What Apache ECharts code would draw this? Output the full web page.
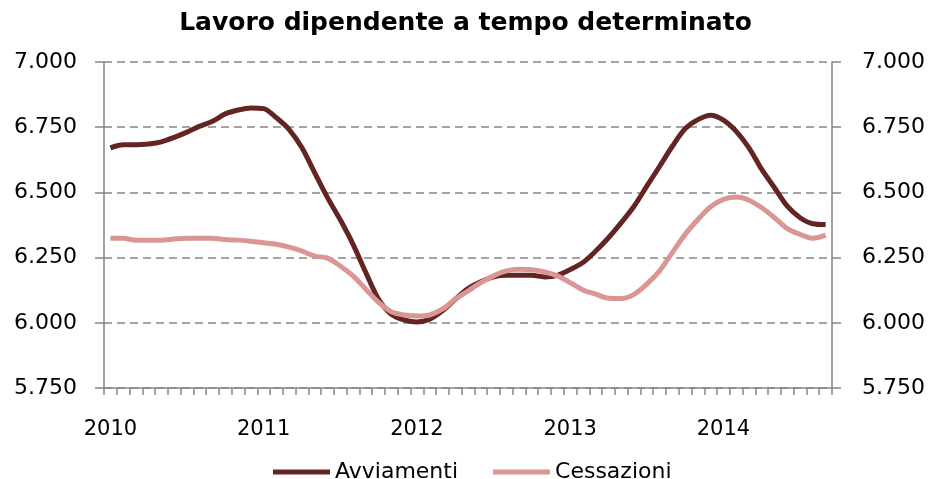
<!DOCTYPE html>
<html>
<head>
<meta charset="utf-8">
<script src="https://cdn.jsdelivr.net/npm/echarts@6/dist/echarts.min.js"></script>
<style>
html,body{margin:0;padding:0;background:#fff;}
#chart{width:931px;height:479px;}
</style>
</head>
<body>
<div id="chart"></div>
<script>
const categories = [
 "2010-01","2010-02","2010-03","2010-04","2010-05","2010-06","2010-07","2010-08","2010-09","2010-10","2010-11","2010-12",
 "2011-01","2011-02","2011-03","2011-04","2011-05","2011-06","2011-07","2011-08","2011-09","2011-10","2011-11","2011-12",
 "2012-01","2012-02","2012-03","2012-04","2012-05","2012-06","2012-07","2012-08","2012-09","2012-10","2012-11","2012-12",
 "2013-01","2013-02","2013-03","2013-04","2013-05","2013-06","2013-07","2013-08","2013-09","2013-10","2013-11","2013-12",
 "2014-01","2014-02","2014-03","2014-04","2014-05","2014-06","2014-07","2014-08","2014-09"
];
const yearLabels = ["2010","2011","2012","2013","2014"];
const avviamenti = [
 6671,6683,6683,6686,6694,6711,6731,6754,6773,6801,6816,6824,
 6821,6786,6741,6671,6575,6480,6395,6301,6193,6090,6033,6011,
 6003,6014,6046,6090,6131,6157,6176,6182,6182,6182,6176,6182,
 6204,6231,6275,6326,6384,6447,6524,6600,6677,6744,6779,6796,
 6777,6734,6671,6588,6518,6447,6403,6380,6377
];
const cessazioni = [
 6324,6324,6317,6317,6317,6321,6324,6324,6324,6319,6317,6313,
 6307,6301,6290,6275,6256,6248,6218,6180,6129,6078,6042,6030,
 6026,6030,6052,6090,6122,6154,6180,6199,6205,6203,6195,6180,
 6154,6126,6110,6094,6093,6109,6148,6199,6269,6339,6396,6445,
 6473,6482,6470,6441,6403,6361,6339,6324,6336
];
const yTicks = { min: 5750, max: 7000, interval: 250 };

const fmt = v => String(Math.round(v)).replace(/\B(?=(\d{3})+(?!\d))/g, '.');
const FONT = '"DejaVu Sans", Verdana, sans-serif';
const axisGray = '#868686';

const chart = echarts.init(document.getElementById('chart'), null, {renderer:'canvas'});
chart.setOption({
  animation: false,
  backgroundColor: '#ffffff',
  title: {
    text: 'Lavoro dipendente a tempo determinato',
    left: 'center',
    top: 6,
    textStyle: { fontFamily: FONT, fontSize: 25, fontWeight: 'bold', color: '#000' }
  },
  legend: {
    left: 268,
    top: 456,
    itemWidth: 57,
    itemHeight: 5,
    itemGap: 35,
    icon: 'rect',
    textStyle: { fontFamily: FONT, fontSize: 22, color: '#000' },
    data: ['Avviamenti', 'Cessazioni']
  },
  grid: { left: 104, right: 99, top: 62, bottom: 91, containLabel: false },
  xAxis: {
    type: 'category',
    data: categories,
    boundaryGap: true,
    axisLine: { show: true, lineStyle: { color: axisGray, width: 1.5 } },
    axisTick: { show: true, interval: 0, length: 7, lineStyle: { color: axisGray, width: 1.5 } },
    axisLabel: {
      interval: 11,
      margin: 31,
      fontFamily: FONT, fontSize: 21, color: '#000',
      formatter: (v, i) => yearLabels[Math.floor(i / 12)] || v.slice(0, 4)
    },
    splitLine: { show: false }
  },
  yAxis: [
    {
      type: 'value', position: 'left',
      min: yTicks.min, max: yTicks.max, interval: yTicks.interval,
      axisLine: { show: true, lineStyle: { color: axisGray, width: 1.5 } },
      axisTick: { show: true, length: 9, lineStyle: { color: axisGray, width: 1.5 } },
      axisLabel: { margin: 27, fontFamily: FONT, fontSize: 22, color: '#000', formatter: fmt },
      splitLine: { show: true, lineStyle: { color: axisGray, width: 1.5, type: [8, 5] } }
    },
    {
      type: 'value', position: 'right',
      min: yTicks.min, max: yTicks.max, interval: yTicks.interval,
      axisLine: { show: true, lineStyle: { color: axisGray, width: 1.5 } },
      axisTick: { show: true, length: 9, lineStyle: { color: axisGray, width: 1.5 } },
      axisLabel: { margin: 30, fontFamily: FONT, fontSize: 22, color: '#000', formatter: fmt },
      splitLine: { show: false }
    }
  ],
  series: [
    {
      name: 'Avviamenti', type: 'line', data: avviamenti, yAxisIndex: 0,
      smooth: 0.3, showSymbol: false, symbol: 'none',
      lineStyle: { color: '#632523', width: 5 },
      itemStyle: { color: '#632523' }
    },
    {
      name: 'Cessazioni', type: 'line', data: cessazioni, yAxisIndex: 0,
      smooth: 0.3, showSymbol: false, symbol: 'none',
      lineStyle: { color: '#D99694', width: 5 },
      itemStyle: { color: '#D99694' }
    }
  ]
});
</script>
</body>
</html>
